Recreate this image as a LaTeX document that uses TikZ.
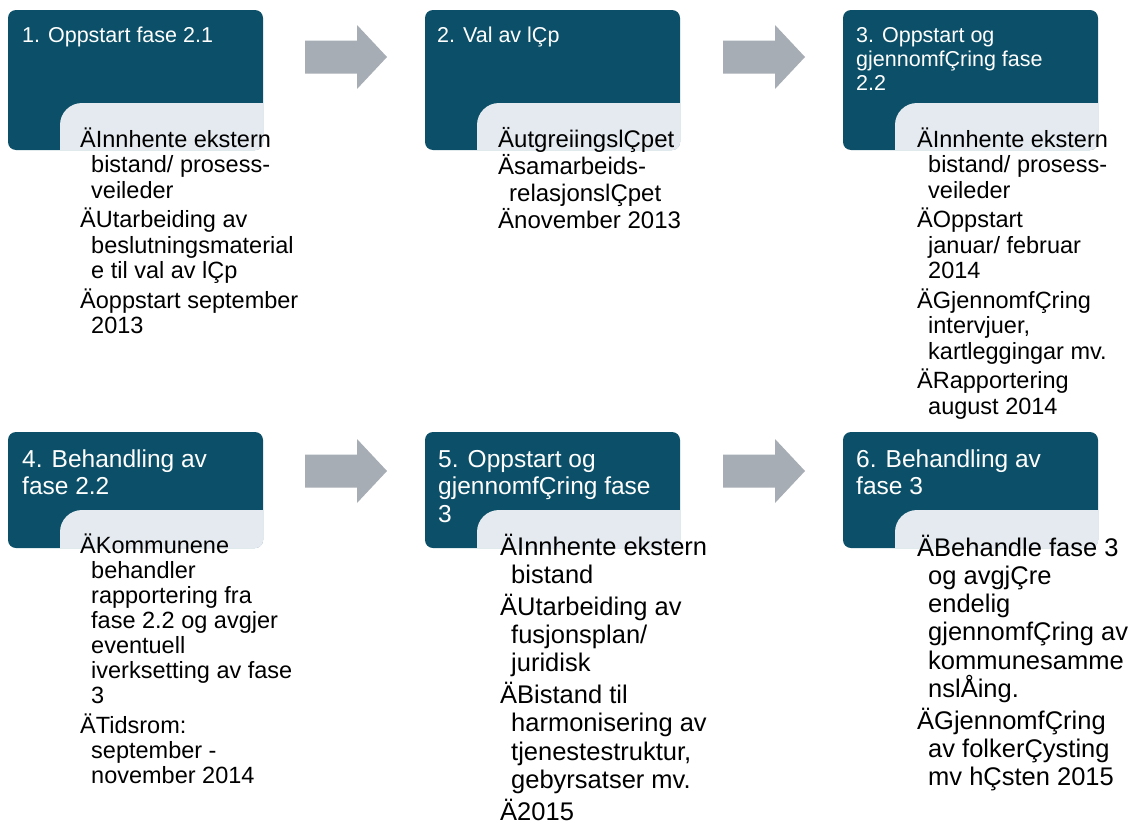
\documentclass[tikz,border=0pt]{standalone}
\usepackage{fontspec}
\setmainfont{Liberation Sans}
\definecolor{tealdark}{RGB}{11,80,104}
\definecolor{teallight}{RGB}{228,234,239}
\definecolor{arrowgray}{RGB}{167,173,180}
\newcommand\ind{\hspace*{11pt}}
\newcommand\lines[1]{\parbox[t]{240pt}{\lineskiplimit=-20pt\lineskip=0pt #1}}
\newcommand\stagebox[5]{%
  \node[stage, minimum height={(#4-#3)*1pt}] (#1) at ({#2+127.5},{(#3+#4)/2}) {};
  \begin{scope}
    \clip[rounded corners=8pt] (#1.south west) rectangle (#1.north east);
    \fill[teallight, rounded corners=22pt] ({#2+52},{#4+60}) -- ({#2+52},#5) -- ({#2+320},#5) -- ({#2+320},{#4+60}) -- cycle;
  \end{scope}}
\newcommand\blockarrow[2]{%
  \fill[arrowgray] (#1,{#2-16.5}) -- ({#1+52},{#2-16.5}) -- ({#1+52},{#2-32}) -- ({#1+82},#2) -- ({#1+52},{#2+32}) -- ({#1+52},{#2+16.5}) -- (#1,{#2+16.5}) -- cycle;}
\begin{document}
\begin{tikzpicture}[x=1pt,y=-1pt,
  stage/.style={fill=tealdark, rounded corners=8pt, inner sep=0pt, minimum width=255pt, draw=none},
  head/.style={text=white, anchor=base west, inner sep=0pt},
  headA/.style={head, font=\fontsize{21.5}{24}\selectfont},
  headB/.style={head, font=\fontsize{24.5}{27.5}\selectfont},
  body/.style={text=black, anchor=base west, inner sep=0pt},
  bodyA/.style={body, font=\fontsize{23.5}{25.5}\selectfont},
  bodyB/.style={body, font=\fontsize{23.5}{25}\selectfont},
  bodyC/.style={body, font=\fontsize{25.5}{28.3}\selectfont}]
\useasboundingbox[fill=white] (0,0) rectangle (1137,827);

\stagebox{s1}{8}{10}{150}{103}
\stagebox{s2}{425}{10}{150}{103}
\stagebox{s3}{843}{10}{150}{103}
\stagebox{s4}{8}{432}{548}{510}
\stagebox{s5}{425}{432}{548}{510}
\stagebox{s6}{843}{432}{548}{510}

\blockarrow{305}{57}
\blockarrow{723}{57}
\blockarrow{305}{471}
\blockarrow{723}{471}

\node[headA] (h1) at (22,42) {\lines{1. Oppstart fase 2.1}};
\node[headA] (h2) at (437,42) {\lines{2. Val av lÇp}};
\node[headA] (h3) at (856,42) {\lines{3. Oppstart og\\gjennomfÇring fase\\2.2}};
\node[headB] (h4) at (22,467) {\lines{4. Behandling av\\fase 2.2}};
\node[headB] (h5) at (438,467) {\lines{5. Oppstart og\\gjennomfÇring fase\\3}};
\node[headB] (h6) at (856,467) {\lines{6. Behandling av\\fase 3}};

\node[bodyA] (t1) at (80,147) {\lines{ÄInnhente ekstern\\\ind bistand/ prosess-\\\ind veileder\\[4pt]ÄUtarbeiding av\\\ind beslutningsmaterial\\\ind e til val av lÇp\\[4pt]Äoppstart september\\\ind 2013}};
\node[bodyA, font=\fontsize{24}{26.5}\selectfont] (t2) at (498,147) {\lines{ÄutgreiingslÇpet\\[1pt]Äsamarbeids-\\\ind relasjonslÇpet\\[1pt]Änovember 2013}};
\node[bodyA] (t3) at (917,147) {\lines{ÄInnhente ekstern\\\ind bistand/ prosess-\\\ind veileder\\[4pt]ÄOppstart\\\ind januar/ februar\\\ind 2014\\[4pt]ÄGjennomfÇring\\\ind intervjuer,\\\ind kartleggingar mv.\\[4pt]ÄRapportering\\\ind august 2014}};
\node[bodyB] (t4) at (80,553) {\lines{ÄKommunene\\\ind behandler\\\ind rapportering fra\\\ind fase 2.2 og avgjer\\\ind eventuell\\\ind iverksetting av fase\\\ind 3\\[5pt]ÄTidsrom:\\\ind september -\\\ind november 2014}};
\node[bodyC] (t5) at (500,555) {\lines{ÄInnhente ekstern\\\ind bistand\\[3.5pt]ÄUtarbeiding av\\\ind fusjonsplan/\\\ind juridisk\\[3.5pt]ÄBistand til\\\ind harmonisering av\\\ind tjenestestruktur,\\\ind gebyrsatser mv.\\[3.5pt]Ä2015}};
\node[bodyC] (t6) at (917,556) {\lines{ÄBehandle fase 3\\\ind og avgjÇre\\\ind endelig\\\ind gjennomfÇring av\\\ind kommunesamme\\\ind nslÅing.\\[3.5pt]ÄGjennomfÇring\\\ind av folkerÇysting\\\ind mv hÇsten 2015}};
\end{tikzpicture}
\end{document}
